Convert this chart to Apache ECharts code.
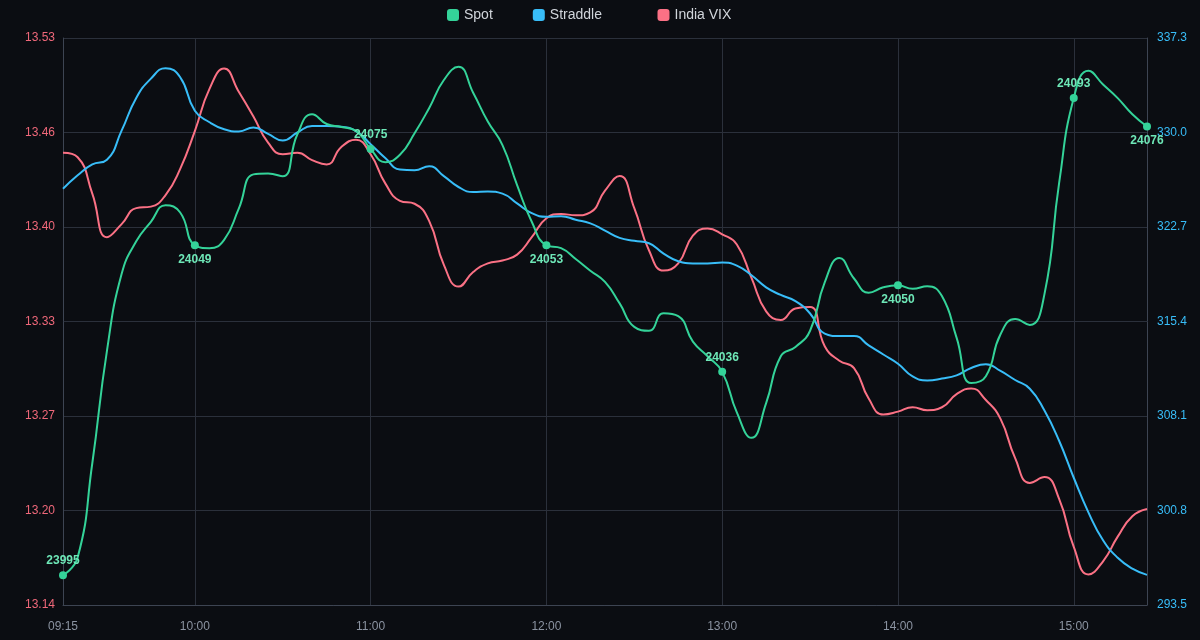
<!DOCTYPE html>
<html>
<head>
<meta charset="utf-8">
<title>Spot / Straddle / India VIX</title>
<script src="https://cdn.jsdelivr.net/npm/echarts@6/dist/echarts.min.js"></script>
<style>
  html, body { margin: 0; padding: 0; background: #0b0d12; }
  #mainChart { width: 1200px; height: 640px; }
</style>
</head>
<body>
<div id="mainChart"></div>
<script>
// 5 分钟一格, 09:15 - 15:25
var times = [
  '09:15', '09:20', '09:25', '09:30', '09:35', '09:40', '09:45', '09:50', '09:55', '10:00',
  '10:05', '10:10', '10:15', '10:20', '10:25', '10:30', '10:35', '10:40', '10:45', '10:50',
  '10:55', '11:00', '11:05', '11:10', '11:15', '11:20', '11:25', '11:30', '11:35', '11:40',
  '11:45', '11:50', '11:55', '12:00', '12:05', '12:10', '12:15', '12:20', '12:25', '12:30',
  '12:35', '12:40', '12:45', '12:50', '12:55', '13:00', '13:05', '13:10', '13:15', '13:20',
  '13:25', '13:30', '13:35', '13:40', '13:45', '13:50', '13:55', '14:00', '14:05', '14:10',
  '14:15', '14:20', '14:25', '14:30', '14:35', '14:40', '14:45', '14:50', '14:55', '15:00',
  '15:05', '15:10', '15:15', '15:20', '15:25'
];

var spot = [
  23995.1, 23998.7, 24018.0, 24041.0, 24056.7, 24063.4, 24067.4, 24070.8, 24069.3, 24062.6,
  24062.0, 24063.7, 24070.1, 24077.1, 24077.3, 24076.7, 24085.3, 24089.4, 24087.4, 24086.8,
  24086.0, 24082.3, 24079.6, 24081.1, 24085.5, 24090.7, 24096.4, 24099.1, 24093.8, 24087.9,
  24083.1, 24074.9, 24067.4, 24062.6, 24062.0, 24059.8, 24057.4, 24055.1, 24050.7, 24045.9,
  24045.1, 24048.7, 24048.1, 24042.9, 24039.9, 24036.7, 24028.4, 24023.2, 24030.3, 24039.9,
  24041.8, 24045.1, 24055.0, 24060.0, 24055.8, 24052.9, 24054.0, 24054.4, 24053.7, 24054.2,
  24052.2, 24043.7, 24034.4, 24035.8, 24044.4, 24047.5, 24046.3, 24052.6, 24075.3, 24092.7,
  24098.3, 24095.5, 24092.7, 24089.4, 24086.9
];

var straddle = [
  325.65, 326.69, 327.53, 327.89, 330.14, 332.67, 334.16, 334.97, 334.27, 331.68,
  330.79, 330.25, 330.08, 330.39, 329.89, 329.38, 330.00, 330.51, 330.51, 330.45,
  330.11, 329.10, 328.03, 327.14, 327.08, 327.39, 326.63, 325.79, 325.40, 325.45,
  325.28, 324.52, 323.77, 323.49, 323.54, 323.26, 322.98, 322.42, 321.86, 321.63,
  321.44, 320.65, 320.06, 319.89, 319.89, 319.95, 319.72, 318.97, 318.04, 317.45,
  316.97, 316.02, 314.47, 314.28, 314.28, 313.55, 312.85, 312.14, 311.16, 310.85,
  310.99, 311.24, 311.81, 312.09, 311.58, 310.88, 310.21, 308.52, 306.19, 303.33,
  300.66, 298.50, 297.15, 296.31, 295.83
];

var vix = [
  13.449, 13.446, 13.421, 13.391, 13.400, 13.411, 13.412, 13.420, 13.438, 13.464,
  13.493, 13.507, 13.491, 13.474, 13.456, 13.448, 13.449, 13.444, 13.441, 13.453,
  13.458, 13.448, 13.428, 13.416, 13.414, 13.402, 13.372, 13.357, 13.367, 13.373,
  13.375, 13.379, 13.391, 13.404, 13.407, 13.406, 13.408, 13.423, 13.433, 13.411,
  13.382, 13.368, 13.373, 13.392, 13.397, 13.393, 13.386, 13.363, 13.340, 13.334,
  13.342, 13.343, 13.316, 13.306, 13.301, 13.280, 13.269, 13.271, 13.274, 13.272,
  13.274, 13.283, 13.287, 13.279, 13.266, 13.239, 13.222, 13.226, 13.211, 13.178,
  13.159, 13.168, 13.185, 13.199, 13.204
];

// 整点标注
var spotMarkIndex = [0, 9, 21, 33, 45, 57, 69, 74];
var spotMarkText = ['23995', '24049', '24075', '24053', '24036', '24050', '24093', '24076'];

var C_SPOT = '#34d399', C_STRADDLE = '#38bdf8', C_VIX = '#fb7185';
var GRID_LINE = '#2b303b', AXIS_LINE = '#3d4452';

var spotData = spot.map(function (v, i) {
  var k = spotMarkIndex.indexOf(i);
  if (k < 0) return v;
  return {
    value: v,
    symbol: 'circle',
    symbolSize: 8,
    label: {
      show: true,
      position: k % 2 === 0 ? 'top' : 'bottom',
      distance: 4,
      formatter: spotMarkText[k]
    }
  };
});

function hourTick(idx, val) {
  return idx === 0 || /:00$/.test(val);
}

var myChart = echarts.init(document.getElementById('mainChart'));

myChart.setOption({
  backgroundColor: '#0b0d12',
  animation: false,
  textStyle: { fontFamily: 'Liberation Sans, Arial, sans-serif' },
  legend: {
    top: 3,
    left: 442,
    itemGap: 40,
    itemWidth: 12,
    itemHeight: 12,
    icon: 'roundRect',
    textStyle: { color: '#d1d5db', fontSize: 14 },
    // Straddle 后面留得宽一点
    formatter: function (name) {
      return name === 'Straddle' ? name + '\u00a0\u00a0\u00a0\u00a0' : name;
    },
    data: ['Spot', 'Straddle', 'India VIX']
  },
  grid: { left: 63, right: 53, top: 38, bottom: 35 },
  xAxis: {
    type: 'category',
    boundaryGap: false,
    data: times,
    axisLine: { lineStyle: { color: AXIS_LINE } },
    axisTick: { show: false },
    axisLabel: { color: '#8b93a1', fontSize: 12, margin: 16, interval: hourTick },
    splitLine: { show: true, interval: hourTick, lineStyle: { color: GRID_LINE } }
  },
  yAxis: [{
    type: 'value',
    position: 'left',
    min: 13.138,
    max: 13.528,
    interval: 0.065,
    axisLine: { show: true, lineStyle: { color: AXIS_LINE } },
    axisLabel: {
      color: '#f0687a', fontSize: 12, margin: 8,
      formatter: function (v) { return v.toFixed(2); }
    },
    splitLine: { lineStyle: { color: GRID_LINE } }
  }, {
    type: 'value',
    position: 'right',
    min: 293.5,
    max: 337.3,
    interval: 7.3,
    axisLine: { show: true, lineStyle: { color: AXIS_LINE } },
    axisLabel: {
      color: '#38bdf8', fontSize: 12, margin: 10,
      formatter: function (v) { return v.toFixed(1); }
    },
    splitLine: { show: false }
  }, {
    type: 'value',
    show: false,
    min: 23989,
    max: 24105
  }],
  series: [{
    name: 'Spot',
    type: 'line',
    yAxisIndex: 2,
    smooth: true,
    symbol: 'none',
    showSymbol: true,
    showAllSymbol: true,
    lineStyle: { width: 2, color: C_SPOT },
    itemStyle: { color: C_SPOT },
    label: { color: '#6ee7b7', fontSize: 12, fontWeight: 'bold' },
    data: spotData,
    z: 4
  }, {
    name: 'Straddle',
    type: 'line',
    yAxisIndex: 1,
    smooth: true,
    showSymbol: false,
    lineStyle: { width: 2, color: C_STRADDLE },
    itemStyle: { color: C_STRADDLE },
    data: straddle,
    z: 3
  }, {
    name: 'India VIX',
    type: 'line',
    yAxisIndex: 0,
    smooth: true,
    showSymbol: false,
    lineStyle: { width: 2, color: C_VIX },
    itemStyle: { color: C_VIX },
    data: vix,
    z: 2
  }]
});
</script>
</body>
</html>
